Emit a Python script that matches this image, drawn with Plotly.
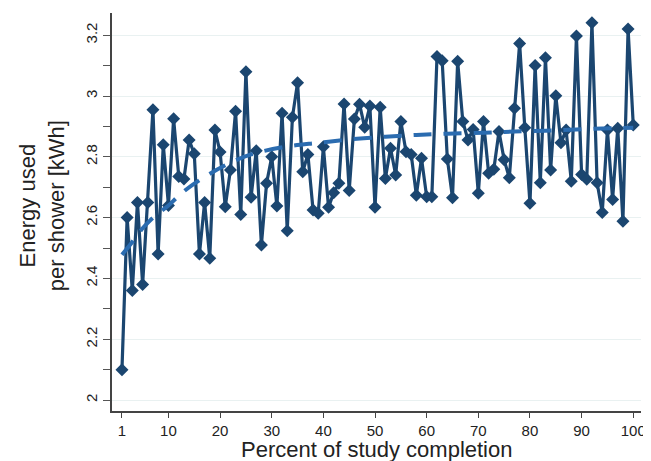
import plotly.graph_objects as go

# Percent of study completion (1..100)
pct = list(range(1, 101))

# Energy used per shower [kWh]
energy = [
    2.10, 2.60, 2.36, 2.65, 2.38, 2.65, 2.955, 2.48, 2.84, 2.64,
    2.925, 2.735, 2.727, 2.855, 2.81, 2.48, 2.65, 2.466, 2.888, 2.816,
    2.636, 2.757, 2.95, 2.61, 3.08, 2.667, 2.82, 2.51, 2.713, 2.80,
    2.638, 2.943, 2.557, 2.93, 3.044, 2.751, 2.808, 2.625, 2.614, 2.833,
    2.634, 2.682, 2.713, 2.974, 2.689, 2.924, 2.973, 2.897, 2.967, 2.634,
    2.963, 2.729, 2.828, 2.74, 2.916, 2.817, 2.808, 2.674, 2.795, 2.669,
    2.669, 3.13, 3.116, 2.793, 2.665, 3.114, 2.916, 2.855, 2.89, 2.68,
    2.916, 2.746, 2.759, 2.883, 2.79, 2.731, 2.96, 3.173, 2.896, 2.647,
    3.10, 2.715, 3.126, 2.757, 3.001, 2.846, 2.888, 2.72, 3.197, 2.742,
    2.726, 3.241, 2.715, 2.617, 2.888, 2.66, 2.894, 2.588, 3.22, 2.905,
]

# Fitted trend (dashed)
trend_x = [1, 3, 5, 7, 10, 12, 15, 21, 26, 33, 39, 45, 52, 58, 64, 71, 77, 83, 89, 96, 100]
trend_y = [2.478, 2.52, 2.565, 2.60, 2.64, 2.672, 2.712, 2.772, 2.808, 2.834, 2.846,
           2.857, 2.866, 2.872, 2.876, 2.879, 2.883, 2.886, 2.890, 2.894, 2.896]

x_ticks = [1, 10, 20, 30, 40, 50, 60, 70, 80, 90, 100]
y_ticks = [2, 2.2, 2.4, 2.6, 2.8, 3, 3.2]
y_ticktext = ["2", "2.2", "2.4", "2.6", "2.8", "3", "3.2"]

NAVY = "#1b4670"
BLUE = "#2b6cb0"

fig = go.Figure()
fig.add_trace(go.Scatter(
    x=pct, y=energy, mode="lines+markers",
    line=dict(color=NAVY, width=3.2),
    marker=dict(symbol="diamond", size=10, color=NAVY),
    showlegend=False,
))
fig.add_trace(go.Scatter(
    x=trend_x, y=trend_y, mode="lines",
    line=dict(color=BLUE, width=4, dash="18px,12px", shape="spline"),
    showlegend=False,
))

font_family = "Liberation Sans, Arial, sans-serif"
fig.update_layout(
    width=643, height=453,
    margin=dict(l=104, r=8, t=5, b=50),
    paper_bgcolor="white", plot_bgcolor="white",
    font=dict(family=font_family, color="#222"),
    xaxis=dict(
        range=[-0.93, 101.5], tickvals=x_ticks, ticktext=[str(v) for v in x_ticks],
        showgrid=False, zeroline=False,
        showline=True, linecolor="#444", linewidth=1.5,
        ticks="outside", ticklen=5, tickwidth=1.3, tickcolor="#444",
        tickfont=dict(size=15, color="#222"),
    ),
    yaxis=dict(
        range=[1.964, 3.273], tickvals=y_ticks, ticktext=y_ticktext,
        tickangle=-90,
        showgrid=True, gridcolor="#e9f1f1", gridwidth=1.2,
        zeroline=False,
        showline=True, linecolor="#444", linewidth=1.5,
        ticks="outside", ticklen=7, tickwidth=1.3, tickcolor="#555",
        tickfont=dict(size=15, color="#222"),
        minor=dict(dtick=0.1, tick0=2.0, ticks="outside", ticklen=7,
                   tickwidth=1.3, tickcolor="#555", showgrid=False),
    ),
    annotations=[
        dict(text="Energy used<br>per shower [kWh]", textangle=-90,
             xref="paper", yref="paper", x=-0.132, y=0.515,
             xanchor="center", yanchor="middle", showarrow=False,
             font=dict(size=22, color="#222", family=font_family)),
        dict(text="Percent of study completion",
             xref="paper", yref="paper", x=0.5, y=-0.096,
             xanchor="center", yanchor="middle", showarrow=False,
             font=dict(size=22, color="#222", family=font_family)),
    ],
)

fig.write_html("out.html")
